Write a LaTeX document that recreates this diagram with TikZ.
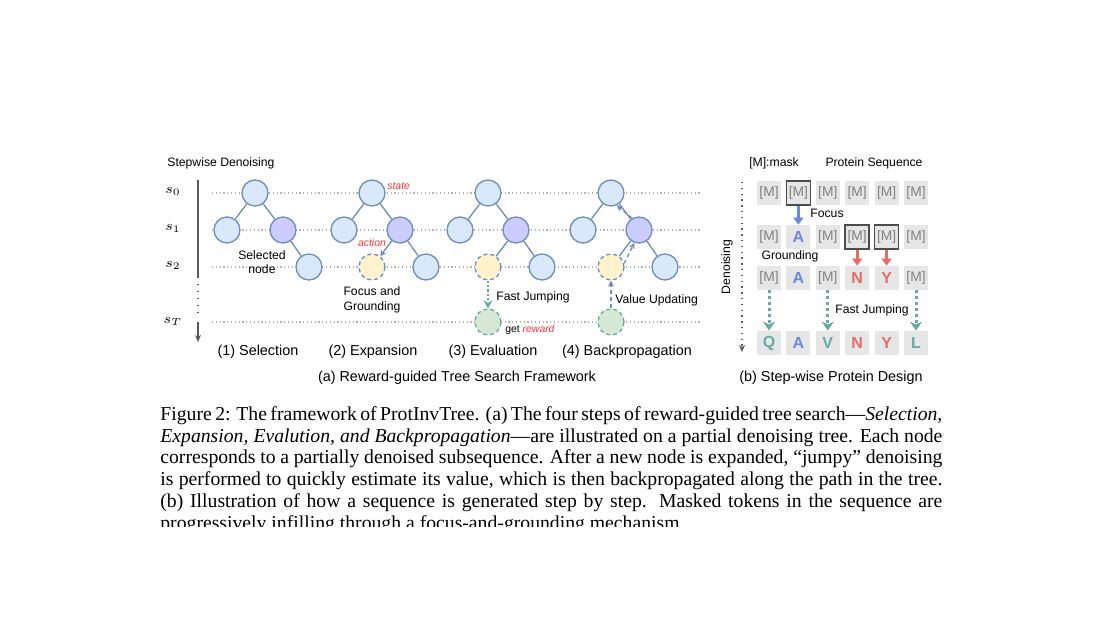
\documentclass[tikz,border=0pt]{standalone}
\usepackage{fontspec}
\setmainfont{Liberation Serif}
\setsansfont{Liberation Sans}
\usepackage{tikz}
\usetikzlibrary{positioning,arrows.meta}
\usepackage{xcolor}

\definecolor{nodeblue}{HTML}{DAE8FC}
\definecolor{edgeblue}{HTML}{6C8EBF}
\definecolor{selpurple}{HTML}{CCCCFF}
\definecolor{newyellow}{HTML}{FFF2CC}
\definecolor{leafgreen}{HTML}{D5E8D4}
\definecolor{jumpteal}{HTML}{67AB9F}
\definecolor{hotred}{HTML}{EA6B66}
\definecolor{cuered}{HTML}{FF3333}
\definecolor{focusblue}{HTML}{6A86E8}
\definecolor{tokgray}{HTML}{E6E6E6}

\begin{document}
\begin{tikzpicture}[
    x=0.5pt, y=-0.5pt,
    >=Stealth,
    on grid,
    font=\sffamily,
    tnode/.style={
        circle, draw=edgeblue, line width=0.65pt, fill=nodeblue,
        minimum size=13pt, inner sep=0pt
    },
    selnode/.style={tnode, fill=selpurple},
    newnode/.style={tnode, fill=newyellow, dash pattern=on 2pt off 1.5pt},
    endnode/.style={tnode, fill=leafgreen, draw=jumpteal, dash pattern=on 2pt off 1.5pt},
    tedge/.style={draw=edgeblue, line width=0.65pt},
    backup/.style={-{Stealth[length=3pt,width=3pt]}, edgeblue, line width=0.65pt, dash pattern=on 2pt off 1.5pt},
    jump/.style={-{Stealth[length=4pt,width=4.5pt]}, jumpteal, line width=1.1pt, dash pattern=on 1.1pt off 1.1pt},
    bigjump/.style={-{Stealth[length=4.5pt,width=6pt]}, jumpteal, line width=1.5pt, dash pattern=on 1.5pt off 1.5pt},
    ground/.style={-{Triangle[length=3.5pt,width=5pt]}, line width=1.3pt},
    axis/.style={black!65, line width=0.7pt},
    stepline/.style={gray!60, line width=0.6pt, dash pattern=on 0.6pt off 1.3pt},
    tok/.style={
        rectangle, fill=tokgray, minimum size=12pt, inner sep=0pt,
        text=black!50, font=\sffamily\fontsize{6.9}{7}\selectfont
    },
    focustok/.style={tok, draw=black!70, line width=0.8pt},
    aa/.style={tok, font=\sffamily\bfseries\fontsize{8}{8}\selectfont, text=#1},
    lbl/.style={inner sep=0pt, font=\sffamily\fontsize{6.1}{7.2}\selectfont},
    cue/.style={inner sep=0pt, font=\sffamily\itshape\fontsize{5.2}{6}\selectfont, text=cuered},
    title/.style={inner sep=0pt, font=\sffamily\fontsize{7.2}{8.5}\selectfont},
    stepname/.style={inner sep=0pt, font=\fontsize{7.5}{9}\selectfont},
]
\path[use as bounding box, fill=white] (0,0) rectangle (1100,640);

% Denoising steps
\node[lbl, anchor=west] (sdtitle) at (167,163) {Stepwise Denoising};
\node[stepname] (s0) at (173,191) {$s_0$};
\node[stepname] (s1) at (173,228) {$s_1$};
\node[stepname] (s2) at (173,265) {$s_2$};
\node[stepname] (sT) at (173,321) {$s_T$};
\draw[stepline] (212,193) -- (700,193);
\draw[stepline] (212,230) -- (700,230);
\draw[stepline] (212,267) -- (700,267);
\draw[stepline] (212,322) -- (700,322);

\coordinate (axtop) at (198,180);
\coordinate (axgap) at (198,278);
\coordinate (axdots) at (198,284);
\coordinate (axdotsend) at (198,317);
\coordinate (axlow) at (198,322);
\coordinate (axend) at (198,342);
\draw[axis] (axtop) -- (axgap);
\draw[axis, dash pattern=on 0.7pt off 2.8pt] (axdots) -- (axdotsend);
\draw[axis, -{Stealth[length=3.5pt,width=3pt]}] (axlow) -- (axend);

% Selection
\node[tnode] (root1) at (255,193) {};
\node[tnode, below left=18.5pt and 14pt of root1] (left1) {};
\node[selnode, below right=18.5pt and 14pt of root1] (sel1) {};
\node[tnode, below right=18.5pt and 13pt of sel1] (leaf1) {};
\draw[tedge] (root1) -- (left1);
\draw[tedge] (root1) -- (sel1);
\draw[tedge] (sel1) -- (leaf1);
\node[lbl, align=center] (selnote) at (262,262) {Selected\\node};

% Expansion
\node[tnode] (root2) at (372,193) {};
\node[tnode, below left=18.5pt and 14pt of root2] (left2) {};
\node[selnode, below right=18.5pt and 14pt of root2] (sel2) {};
\node[tnode, below right=18.5pt and 13pt of sel2] (leaf2) {};
\node[newnode, below left=18.5pt and 14pt of sel2] (new2) {};
\draw[tedge] (root2) -- (left2);
\draw[tedge] (root2) -- (sel2);
\draw[tedge] (sel2) -- (leaf2);
\draw[tedge, -{Stealth[length=3pt,width=3pt]}] (sel2) -- (new2);
\node[cue, anchor=west] (state) at (387,186) {state};
\node[cue] (action) at (372,243) {action};
\node[lbl, align=left] (fgnote) at (372,300) {Focus and\\Grounding};

% Evaluation
\node[tnode] (root3) at (488,193) {};
\node[tnode, below left=18.5pt and 14pt of root3] (left3) {};
\node[selnode, below right=18.5pt and 14pt of root3] (sel3) {};
\node[tnode, below right=18.5pt and 13pt of sel3] (leaf3) {};
\node[newnode, below left=18.5pt and 14pt of sel3] (new3) {};
\node[endnode, below=27.5pt of new3] (end3) {};
\draw[tedge] (root3) -- (left3);
\draw[tedge] (root3) -- (sel3);
\draw[tedge] (sel3) -- (leaf3);
\draw[tedge] (sel3) -- (new3);
\draw[jump] (new3) -- (end3);
\node[lbl, anchor=west] (fastnote) at (496,297) {Fast Jumping};
\node[inner sep=0pt, anchor=west, font=\sffamily\fontsize{5.2}{6}\selectfont] (rewnote) at (505,330) {get \textcolor{cuered}{\textit{reward}}};

% Backpropagation
\node[tnode] (root4) at (611,193) {};
\node[tnode, below left=18.5pt and 14pt of root4] (left4) {};
\node[selnode, below right=18.5pt and 14pt of root4] (sel4) {};
\node[tnode, below right=18.5pt and 13pt of sel4] (leaf4) {};
\node[newnode, below left=18.5pt and 14pt of sel4] (new4) {};
\node[endnode, below=27.5pt of new4] (end4) {};
\draw[tedge] (root4) -- (left4);
\draw[tedge] (root4) -- (sel4);
\draw[tedge] (sel4) -- (leaf4);
\draw[tedge] (sel4) -- (new4);
\draw[backup] (end4) -- (new4);
\draw[backup] (new4.15) -- (sel4.250);
\draw[backup] (sel4.120) -- (root4.-65);
\node[lbl, anchor=west] (valnote) at (615,300) {Value Updating};

% Step names
\node[title] (selcap) at (258,352) {(1) Selection};
\node[title] (expcap) at (373,352) {(2) Expansion};
\node[title] (evacap) at (493,352) {(3) Evaluation};
\node[title] (bpcap) at (627,352) {(4) Backpropagation};
\node[title] (capa) at (457,378) {(a) Reward-guided Tree Search Framework};

% Protein sequence
\node[lbl] (masknote) at (774,163) {[M]:mask};
\node[lbl] (seqnote) at (874,163) {Protein Sequence};
\node[lbl, rotate=90] (dnnote) at (727,267) {Denoising};
\coordinate (dntop) at (742,182);
\coordinate (dnend) at (742,352);
\draw[axis, dash pattern=on 0.7pt off 2.2pt, -{Stealth[length=3.5pt,width=3pt]}] (dntop) -- (dnend);

\node[tok] (a1) at (769,193) {[M]};
\node[focustok, right=14.7pt of a1] (a2) {[M]};
\node[tok, right=14.7pt of a2] (a3) {[M]};
\node[tok, right=14.7pt of a3] (a4) {[M]};
\node[tok, right=14.7pt of a4] (a5) {[M]};
\node[tok, right=14.7pt of a5] (a6) {[M]};

\node[tok, below=22pt of a1] (b1) {[M]};
\node[aa=focusblue, right=14.7pt of b1] (b2) {A};
\node[tok, right=14.7pt of b2] (b3) {[M]};
\node[focustok, right=14.7pt of b3] (b4) {[M]};
\node[focustok, right=14.7pt of b4] (b5) {[M]};
\node[tok, right=14.7pt of b5] (b6) {[M]};

\node[tok, below=20.5pt of b1] (c1) {[M]};
\node[aa=focusblue, right=14.7pt of c1] (c2) {A};
\node[tok, right=14.7pt of c2] (c3) {[M]};
\node[aa=hotred, right=14.7pt of c3] (c4) {N};
\node[aa=hotred, right=14.7pt of c4] (c5) {Y};
\node[tok, right=14.7pt of c5] (c6) {[M]};

\node[aa=jumpteal, below=32.5pt of c1] (d1) {Q};
\node[aa=focusblue, right=14.7pt of d1] (d2) {A};
\node[aa=jumpteal, right=14.7pt of d2] (d3) {V};
\node[aa=hotred, right=14.7pt of d3] (d4) {N};
\node[aa=hotred, right=14.7pt of d4] (d5) {Y};
\node[aa=jumpteal, right=14.7pt of d5] (d6) {L};

\draw[ground, focusblue] (a2) -- (b2);
\node[lbl, anchor=west] (focnote) at (810,213) {Focus};
\draw[ground, hotred] (b4) -- (c4);
\draw[ground, hotred] (b5) -- (c5);
\node[lbl] (grnote) at (790,256) {Grounding};
\draw[bigjump] (c1) -- (d1);
\draw[bigjump] (c3) -- (d3);
\draw[bigjump] (c6) -- (d6);
\node[lbl] (fjnote) at (872,310) {Fast Jumping};
\node[title] (capb) at (831,378) {(b) Step-wise Protein Design};

% Caption
\begin{scope}
\clip (0,0) rectangle (1100,527);
\node[anchor=north west, inner sep=0pt, text width=391pt, align=justify,
    font=\rmfamily\fontsize{9.85}{10.85}\selectfont] (caption) at (160,405) {\strut Figure 2: The framework of ProtInvTree. (a) The four steps of reward-guided tree search—\textit{Selection,}\linebreak
\textit{Expansion, Evalution, and Backpropagation}—are illustrated on a partial denoising tree. Each node\linebreak
corresponds to a partially denoised subsequence. After a new node is expanded, “jumpy” denoising\linebreak
is performed to quickly estimate its value, which is then backpropagated along the path in the tree.\linebreak
(b) Illustration of how a sequence is generated step by step. Masked tokens in the sequence are\linebreak
progressively infilling through a focus-and-grounding mechanism.};
\end{scope}

\end{tikzpicture}
\end{document}
